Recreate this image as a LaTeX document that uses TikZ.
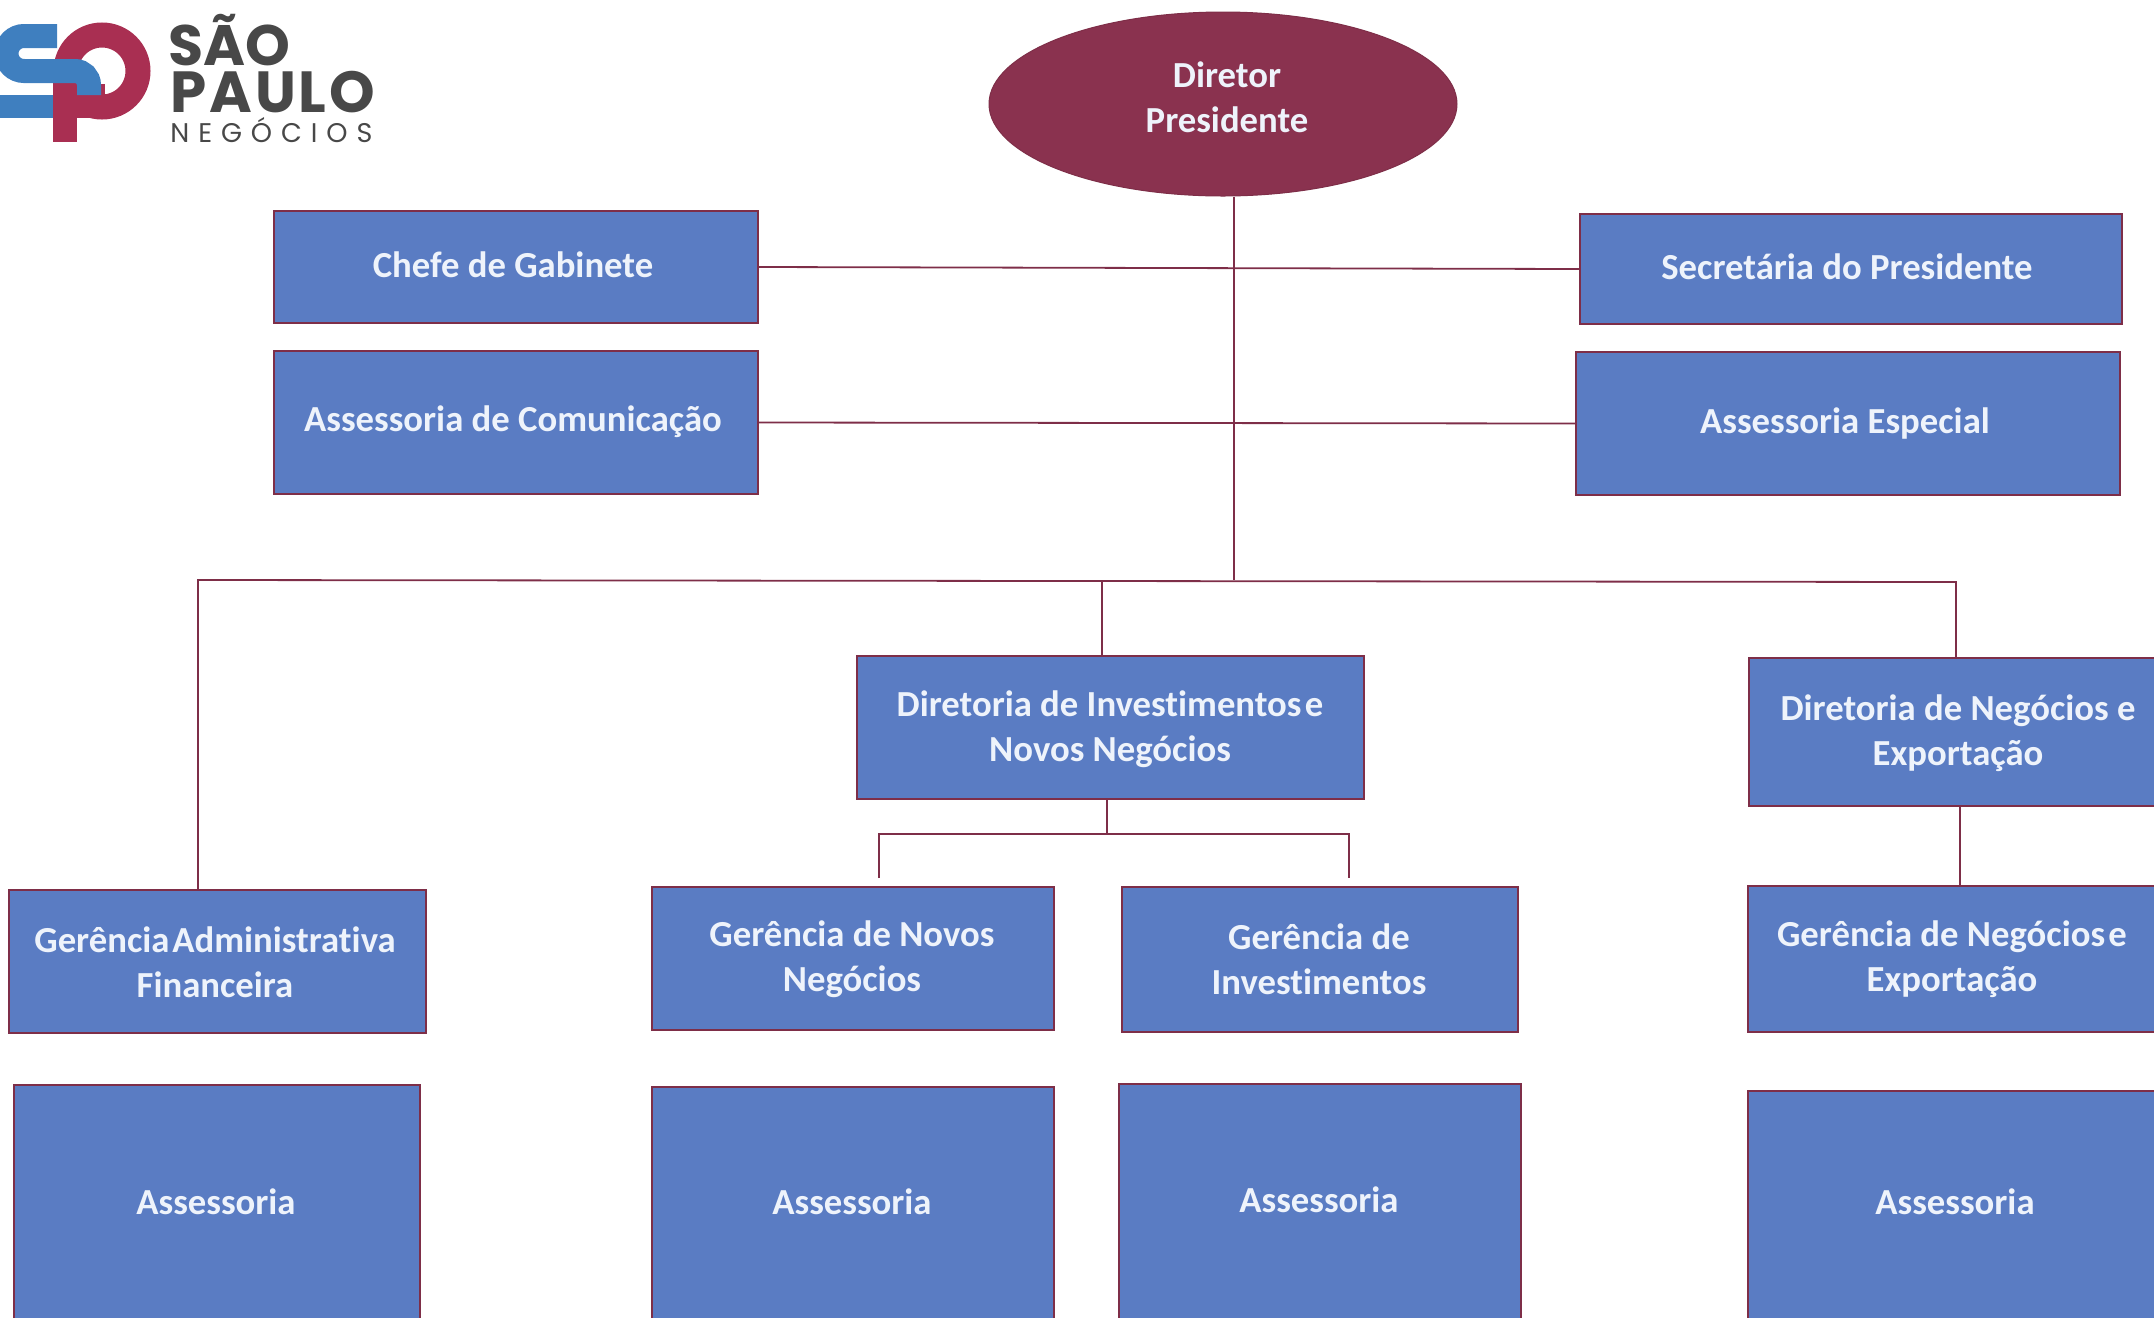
\documentclass[tikz,border=0pt]{standalone}
\usepackage{fontspec}
\setmainfont{Carlito}[Ligatures=NoCommon]
\newfontfamily\logofont{Poppins}
\usetikzlibrary{shapes.geometric}
\definecolor{boxblue}{HTML}{5A7CC3}
\definecolor{wine}{HTML}{8A324F}
\definecolor{linewine}{HTML}{7E2E48}
\definecolor{txtw}{HTML}{EEF3FB}
\definecolor{logoblue}{HTML}{3F7FBF}
\definecolor{logored}{HTML}{A92F52}
\definecolor{logogrey}{HTML}{484848}
\tikzset{
  x=0.5pt,y=-0.5pt,
  orgbox/.style={draw=linewine,fill=boxblue,line width=0.9pt,inner sep=0pt,rectangle},
  orgtext/.style={text=txtw,font=\fontsize{18.35}{22.5}\selectfont\bfseries,align=center,inner sep=0pt},
  conn/.style={draw=linewine,line width=0.9pt},
  logotext/.style={text=logogrey,inner sep=0pt,anchor=base west},
}
\newcommand{\orgb}[8]{%
  \pgfmathsetmacro{\boxw}{(#4-#2)*0.5}%
  \pgfmathsetmacro{\boxh}{(#5-#3)*0.5}%
  \pgfmathsetmacro{\boxx}{(#2+#4)/2}%
  \pgfmathsetmacro{\boxy}{(#3+#5)/2}%
  \node[orgbox,minimum width=\boxw pt,minimum height=\boxh pt] (#1) at (\boxx,\boxy) {};
  \node[orgtext] (#1t) at (#7,#8) {#6};
}
\begin{document}
\begin{tikzpicture}
\useasboundingbox (0,0) rectangle (2154,1318);
% logo
\draw[logored,line width=12.5pt] (102,71) circle [radius=36];
\fill[logored] (53,70) rectangle (77,142);
\fill[logored] (53,84) rectangle (105,118);
\draw[logoblue,line width=12pt] (57,36) -- (24,36) arc[start angle=270,end angle=90,radius=17.5] -- (75,71) arc[start angle=-90,end angle=0,radius=14] -- (89,95);
\fill[logoblue] (0,95) rectangle (53,118);
\node[logotext,font=\logofont\fontsize{28.5}{28}\selectfont\bfseries] (logoa) at (168,65) {SÃO};
\node[logotext,font=\logofont\fontsize{29}{28}\selectfont\bfseries\addfontfeatures{LetterSpace=5}] (logob) at (170,112) {PAULO};
\node[logotext,font=\logofont\fontsize{13.5}{14}\selectfont\addfontfeatures{LetterSpace=33}] (logoc) at (170,142) {NEGÓCIOS};
% top ellipse
\node[ellipse,draw=linewine,fill=wine,line width=0.5pt,inner sep=0pt,minimum width=234pt,minimum height=92pt] (pres) at (1223,104) {};
\node[orgtext] (prest) at (1227,97) {Diretor\\Presidente};
% boxes
\orgb{chefe}{274}{211}{758}{323}{Chefe de Gabinete}{513}{265}
\orgb{acom}{274}{351}{758}{494}{Assessoria de Comunicação}{513}{422}
\orgb{secr}{1580}{214}{2122}{324}{Secretária do Presidente}{1847}{267}
\orgb{aesp}{1576}{352}{2120}{495}{Assessoria Especial}{1845}{424}
\orgb{dinv}{857}{656}{1364}{799}{Diretoria de Investimentos\hspace{.09em}e\\Novos Negócios}{1110}{729}
\orgb{dneg}{1749}{658}{2170}{806}{Diretoria de Negócios e\\Exportação}{1958}{733}
\orgb{gadm}{9}{890}{426}{1033}{Gerência\hspace{.08em}Administrativa\\Financeira}{215}{962}
\orgb{gnov}{652}{887}{1054}{1030}{Gerência de Novos\\Negócios}{852}{959}
\orgb{ginv}{1122}{887}{1518}{1032}{Gerência de\\Investimentos}{1319}{959}
\orgb{gneg}{1748}{886}{2170}{1032}{Gerência de Negócios\hspace{.09em}e\\Exportação}{1952}{959}
\orgb{as1}{14}{1085}{420}{1330}{Assessoria}{216}{1202}
\orgb{as2}{652}{1087}{1054}{1330}{Assessoria}{852}{1202}
\orgb{as3}{1119}{1084}{1521}{1330}{Assessoria}{1319}{1200}
\orgb{as4}{1748}{1091}{2170}{1330}{Assessoria}{1955}{1202}
% connectors
\coordinate (spine) at (1234,580);
\coordinate (busl) at (198,580);
\coordinate (busr) at (1956,582);
\coordinate (busm) at (1102,581);
\coordinate (sub) at (1107,834);
\coordinate (subl) at (879,834);
\coordinate (subr) at (1349,834);
\coordinate (neg) at (1960,806);
\draw[conn] (pres.south -| spine) -- (spine);
\draw[conn] (chefe.east) -- (secr.west);
\draw[conn] (acom.east) -- (aesp.west);
\draw[conn] (busl |- gadm.north) -- (busl) -- (busr) -- (busr |- dneg.north);
\draw[conn] (busm) -- (busm |- dinv.north);
\draw[conn] (sub |- dinv.south) -- (sub);
\draw[conn] ([yshift=4pt]subl |- gnov.north) -- (subl) -- (subr) -- ([yshift=4pt]subr |- ginv.north);
\draw[conn] (neg |- dneg.south) -- (neg |- gneg.north);
\end{tikzpicture}
\end{document}
